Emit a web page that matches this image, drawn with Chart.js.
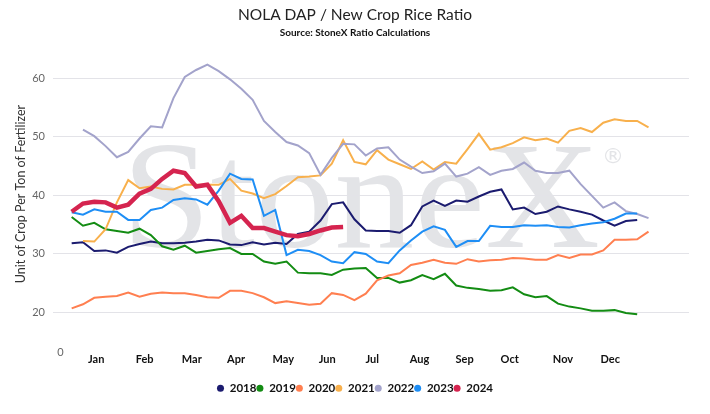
<!DOCTYPE html>
<html>
<head>
  <meta charset="utf-8">
  <title>NOLA DAP / New Crop Rice Ratio</title>
  <script src="https://cdn.jsdelivr.net/npm/chart.js@4.4.1/dist/chart.umd.min.js"></script>
  <style>
    body { margin: 0; background: #ffffff; }
    #wrap { width: 710px; height: 414px; }
  </style>
</head>
<body>
  <div id="wrap"><canvas id="myChart" width="710" height="414"></canvas></div>
  <script>
    // semanas del año (eje x)
    var weeks = [1, 2, 3, 4, 5, 6, 7, 8, 9, 10, 11, 12, 13, 14, 15, 16, 17, 18, 19, 20, 21, 22, 23, 24, 25, 26,
                 27, 28, 29, 30, 31, 32, 33, 34, 35, 36, 37, 38, 39, 40, 41, 42, 43, 44, 45, 46, 47, 48, 49, 50, 51, 52];

    // etiquetas de mes y la semana donde va cada una
    var monthLabels = ['Jan', 'Feb', 'Mar', 'Apr', 'May', 'Jun', 'Jul', 'Aug', 'Sep', 'Oct', 'Nov', 'Dec'];
    var monthTicks = [3.17, 7.45, 11.62, 15.53, 19.71, 23.59, 27.58, 31.75, 35.74, 39.73, 44.44, 48.62];
    // el "0" suelto que aparece en la esquina del original
    var zeroLabel = '0';

    var yTicks = [20, 30, 40, 50, 60];

    var years = ['2018', '2019', '2020', '2021', '2022', '2023', '2024'];

    var r2018 = [31.8, 32.0, 30.5, 30.6, 30.2, 31.2, 31.7, 32.1, 31.8, 31.8, 31.9, 32.1, 32.4, 32.3, 31.6, 31.5, 32.0,
                 31.6, 31.9, 31.7, 33.4, 33.8, 35.7, 38.5, 38.8, 35.9, 34.0, 33.9, 33.9, 33.6, 34.9, 38.1, 39.1, 38.2,
                 39.1, 38.9, 39.8, 40.6, 41.0, 37.6, 37.9, 36.8, 37.2, 38.1, 37.6, 37.2, 36.7, 35.7, 34.8, 35.6, 35.8, null];
    var r2019 = [36.3, 34.8, 35.3, 34.2, 33.9, 33.6, 34.3, 33.2, 31.3, 30.7, 31.4, 30.2, 30.5, 30.8, 31.0, 30.0, 30.0,
                 28.7, 28.3, 28.7, 26.8, 26.7, 26.7, 26.4, 27.3, 27.5, 27.6, 25.9, 25.9, 25.1, 25.5, 26.4, 25.7, 26.6,
                 24.6, 24.2, 24.0, 23.7, 23.8, 24.3, 23.1, 22.6, 22.8, 21.5, 21.0, 20.7, 20.3, 20.3, 20.4, 19.9, 19.7, null];
    var r2020 = [20.7, 21.4, 22.5, 22.7, 22.8, 23.4, 22.7, 23.2, 23.4, 23.3, 23.3, 23.0, 22.6, 22.5, 23.7, 23.7, 23.3,
                 22.6, 21.6, 21.9, 21.6, 21.3, 21.5, 23.3, 23.0, 22.1, 23.2, 25.5, 26.3, 26.7, 28.1, 28.5, 29.0, 28.5,
                 28.3, 29.1, 28.7, 28.9, 29.0, 29.3, 29.2, 29.0, 29.0, 29.8, 29.3, 29.9, 29.9, 30.6, 32.4, 32.4, 32.5, 33.8];
    var r2021 = [null, 32.2, 32.1, 34.2, 38.8, 42.6, 41.2, 41.5, 41.1, 41.0, 41.8, 41.8, 41.8, 41.8, 42.8, 40.8, 40.3,
                 39.5, 40.2, 41.6, 43.1, 43.2, 43.4, 45.4, 49.4, 45.7, 45.3, 47.7, 46.1, 45.3, 44.5, 45.8, 44.4, 45.7,
                 45.4, 47.9, 50.5, 47.8, 48.2, 48.9, 49.9, 49.4, 49.7, 49.0, 51.0, 51.5, 50.8, 52.4, 53.0, 52.7, 52.7, 51.6];
    var r2022 = [null, 51.2, 50.1, 48.4, 46.5, 47.4, 49.7, 51.8, 51.6, 56.6, 60.2, 61.4, 62.3, 61.2, 59.8, 58.2, 56.3,
                 52.7, 50.8, 49.1, 48.5, 47.2, 43.5, 46.4, 48.8, 48.7, 46.8, 48.0, 48.2, 46.1, 44.9, 43.8, 44.1, 45.4,
                 43.2, 43.7, 44.8, 43.5, 44.2, 44.5, 45.6, 44.2, 43.8, 43.8, 44.2, 41.9, 39.9, 37.9, 38.8, 37.3, 36.8, 36.1];
    var r2023 = [37.1, 36.7, 37.6, 37.2, 37.2, 35.8, 35.8, 37.5, 37.9, 39.2, 39.5, 39.3, 38.4, 40.8, 43.7, 42.8, 42.7,
                 36.5, 37.5, 29.8, 30.7, 30.5, 29.8, 28.7, 28.4, 30.3, 30.0, 28.7, 28.4, 30.6, 32.3, 33.8, 34.7, 34.1,
                 31.2, 32.2, 32.2, 34.8, 34.6, 34.6, 34.9, 34.8, 34.9, 34.6, 34.5, 34.9, 35.2, 35.4, 36.0, 36.9, 36.9, null];
    var r2024 = [37.2, 38.6, 38.9, 38.8, 37.9, 38.4, 40.3, 41.1, 42.8, 44.2, 43.8, 41.5, 41.8, 39.0, 35.3, 36.5, 34.4,
                 34.4, 33.8, 33.2, 33.0, 33.4, 34.0, 34.5, 34.6];

    var series = [r2018, r2019, r2020, r2021, r2022, r2023, r2024];
    var colores = ['#1b1b6f', '#138c13', '#ff7f50', '#f8b04c', '#a3a3cb', '#1e8ef5', '#d5244f'];

    var FONT = 'Lato, "Open Sans", sans-serif';
    var yTitle = 'Unit of Crop Per Ton of Fertilizer';

    // marca de agua StoneX detrás de todo
    var watermark = {
      id: 'watermark',
      beforeDraw: function(chart) {
        var c = chart.ctx;
        c.save();
        c.fillStyle = '#e3e4e7';
        c.font = '152px "Liberation Serif", "DejaVu Serif", serif';
        c.textBaseline = 'alphabetic';
        var w = c.measureText('StoneX').width;
        c.translate(122, 247);
        c.scale(478 / w, 1);
        c.fillText('StoneX', 0, 0);
        c.restore();
        c.save();
        c.fillStyle = '#e3e4e7';
        c.font = '22px "DejaVu Sans", sans-serif';
        c.textAlign = 'center';
        c.textBaseline = 'middle';
        c.fillText('\u00ae', 613, 157);
        c.restore();
      }
    };

    // titulo del eje y (un poco mas arriba que el centro) y el "0" de la esquina
    var textosExtra = {
      id: 'textosExtra',
      afterDraw: function(chart) {
        var c = chart.ctx;
        var area = chart.chartArea;
        c.save();
        c.translate(21, 194);
        c.rotate(-Math.PI / 2);
        c.fillStyle = '#333';
        c.font = '12.5px ' + FONT;
        c.textAlign = 'center';
        c.textBaseline = 'middle';
        c.fillText(yTitle, 0, 0);
        c.restore();

        c.save();
        c.fillStyle = '#666';
        c.font = '11px ' + FONT;
        c.textAlign = 'center';
        c.textBaseline = 'middle';
        c.fillText(zeroLabel, chart.scales.x.getPixelForValue(0), area.bottom);
        c.restore();
      }
    };

    var datasets = [];
    for (var i = 0; i < years.length; i++) {
      datasets.push({
        label: years[i],
        data: series[i],
        borderColor: colores[i],
        backgroundColor: colores[i],
        borderWidth: i === 6 ? 4.5 : 2,
        pointRadius: 0,
        pointHoverRadius: 0,
        tension: 0,
        spanGaps: false,
        order: years.length - i
      });
    }

    var ctx = document.getElementById('myChart').getContext('2d');
    var myChart = new Chart(ctx, {
      type: 'line',
      data: { labels: weeks, datasets: datasets },
      plugins: [watermark, textosExtra],
      options: {
        responsive: false,
        animation: false,
        layout: { padding: { left: 0, right: 0, top: 0, bottom: 10 } },
        plugins: {
          title: {
            display: true,
            text: 'NOLA DAP / New Crop Rice Ratio',
            color: '#222',
            font: { family: FONT, size: 15.5, weight: 'normal' },
            padding: { top: 6, bottom: 2 }
          },
          subtitle: {
            display: true,
            text: 'Source: StoneX Ratio Calculations',
            color: '#111',
            font: { family: FONT, size: 10, weight: 'bold' },
            padding: { top: 0, bottom: 22 }
          },
          legend: {
            position: 'bottom',
            labels: {
              usePointStyle: true,
              pointStyle: 'circle',
              pointStyleWidth: 7,
              boxHeight: 5,
              padding: 0,
              color: '#111',
              font: { family: FONT, size: 11.5, weight: 'bold' },
              generateLabels: function(chart) {
                var items = Chart.defaults.plugins.legend.labels.generateLabels(chart);
                items.forEach(function(it) { it.lineWidth = 0; it.pointStyle = 'circle'; });
                return items;
              },
              sort: function(a, b) { return a.datasetIndex - b.datasetIndex; }
            }
          },
          tooltip: { enabled: false }
        },
        scales: {
          x: {
            type: 'linear',
            min: -0.65,
            max: 55.58,
            grid: { display: false, drawTicks: false },
            border: { display: false },
            afterBuildTicks: function(scale) {
              scale.ticks = monthTicks.map(function(v) { return { value: v }; });
            },
            afterFit: function(scale) { scale.height += 15; },
            ticks: {
              autoSkip: false,
              maxRotation: 0,
              padding: 1,
              color: '#111',
              font: { family: FONT, size: 11, weight: 'bold' },
              callback: function(value) {
                var k = monthTicks.indexOf(value);
                return k >= 0 ? monthLabels[k] : '';
              }
            }
          },
          y: {
            min: 13.2,
            max: 63,
            afterBuildTicks: function(scale) {
              scale.ticks = yTicks.map(function(v) { return { value: v }; });
            },
            afterFit: function(scale) { scale.width = 53; },
            grid: {
              drawTicks: false,
              color: '#e3e3e8',
              lineWidth: 1
            },
            border: { display: false },
            title: { display: false },
            ticks: {
              padding: 8,
              color: '#666',
              font: { family: FONT, size: 11 }
            }
          },
          // eje vacio a la derecha solo para dejar el margen del original
          margen: {
            type: 'linear',
            position: 'right',
            display: true,
            grid: { display: false, drawTicks: false },
            border: { display: false },
            ticks: { display: false },
            afterFit: function(scale) { scale.width = 21; }
          }
        }
      }
    });
  </script>
</body>
</html>
